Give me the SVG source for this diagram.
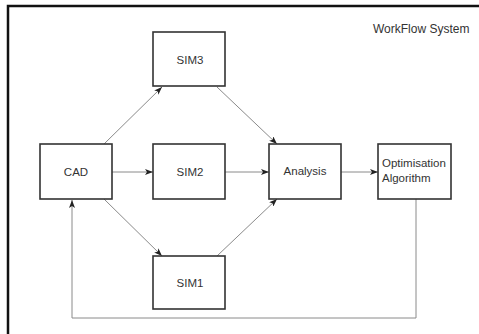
<svg xmlns="http://www.w3.org/2000/svg" width="479" height="334" viewBox="0 0 479 334">
  <defs>
    <style>
      .box { fill: #ffffff; stroke: #333333; stroke-width: 1.6; }
      .lbl { font-family: "Liberation Sans", Arial, sans-serif; font-size: 11.5px; fill: #333333; }
      .title { font-size: 12px; }
      .mid { text-anchor: middle; }
      .conn { fill: none; stroke: #8a8a8a; stroke-width: 1; }
      .frame { fill: none; stroke: #111111; stroke-width: 2.5; }
    </style>
    <marker id="arrow" viewBox="0 0 8 6" refX="8" refY="3" markerWidth="8" markerHeight="6" markerUnits="userSpaceOnUse" orient="auto">
      <path d="M0,0 L8,3 L0,6 L2,3 Z" fill="#222222"/>
    </marker>
  </defs>

  <rect width="479" height="334" fill="#ffffff"/>

  <!-- system boundary (extends past the right and bottom edges) -->
  <rect class="frame" x="8" y="6" width="490" height="345"/>
  <text class="lbl title" x="373" y="33">WorkFlow System</text>

  <!-- connectors -->
  <g id="connectors">
    <line class="conn" x1="104" y1="144" x2="162" y2="87" marker-end="url(#arrow)"/>
    <line class="conn" x1="112" y1="172" x2="153" y2="172" marker-end="url(#arrow)"/>
    <line class="conn" x1="104" y1="199" x2="162" y2="256" marker-end="url(#arrow)"/>
    <line class="conn" x1="217" y1="87" x2="277" y2="144" marker-end="url(#arrow)"/>
    <line class="conn" x1="225" y1="172" x2="269" y2="172" marker-end="url(#arrow)"/>
    <line class="conn" x1="217" y1="256" x2="277" y2="199" marker-end="url(#arrow)"/>
    <line class="conn" x1="341" y1="172" x2="378" y2="172" marker-end="url(#arrow)"/>
    <polyline class="conn" points="416,199 416,318 72,318 72,200" marker-end="url(#arrow)"/>
  </g>

  <!-- nodes -->
  <g id="cad">
    <rect class="box" x="40" y="144" width="72" height="55"/>
    <text class="lbl mid" x="76" y="176">CAD</text>
  </g>
  <g id="sim3">
    <rect class="box" x="153" y="32" width="72" height="54"/>
    <text class="lbl mid" x="190" y="64">SIM3</text>
  </g>
  <g id="sim2">
    <rect class="box" x="153" y="144" width="72" height="55"/>
    <text class="lbl mid" x="190" y="176">SIM2</text>
  </g>
  <g id="sim1">
    <rect class="box" x="153" y="256" width="72" height="53"/>
    <text class="lbl mid" x="190" y="287">SIM1</text>
  </g>
  <g id="analysis">
    <rect class="box" x="269" y="144" width="72" height="55"/>
    <text class="lbl mid" x="305" y="175">Analysis</text>
  </g>
  <g id="optimisation">
    <rect class="box" x="378" y="144" width="73" height="55"/>
    <text class="lbl" x="382" y="167">Optimisation</text>
    <text class="lbl" x="382" y="182">Algorithm</text>
  </g>
</svg>
